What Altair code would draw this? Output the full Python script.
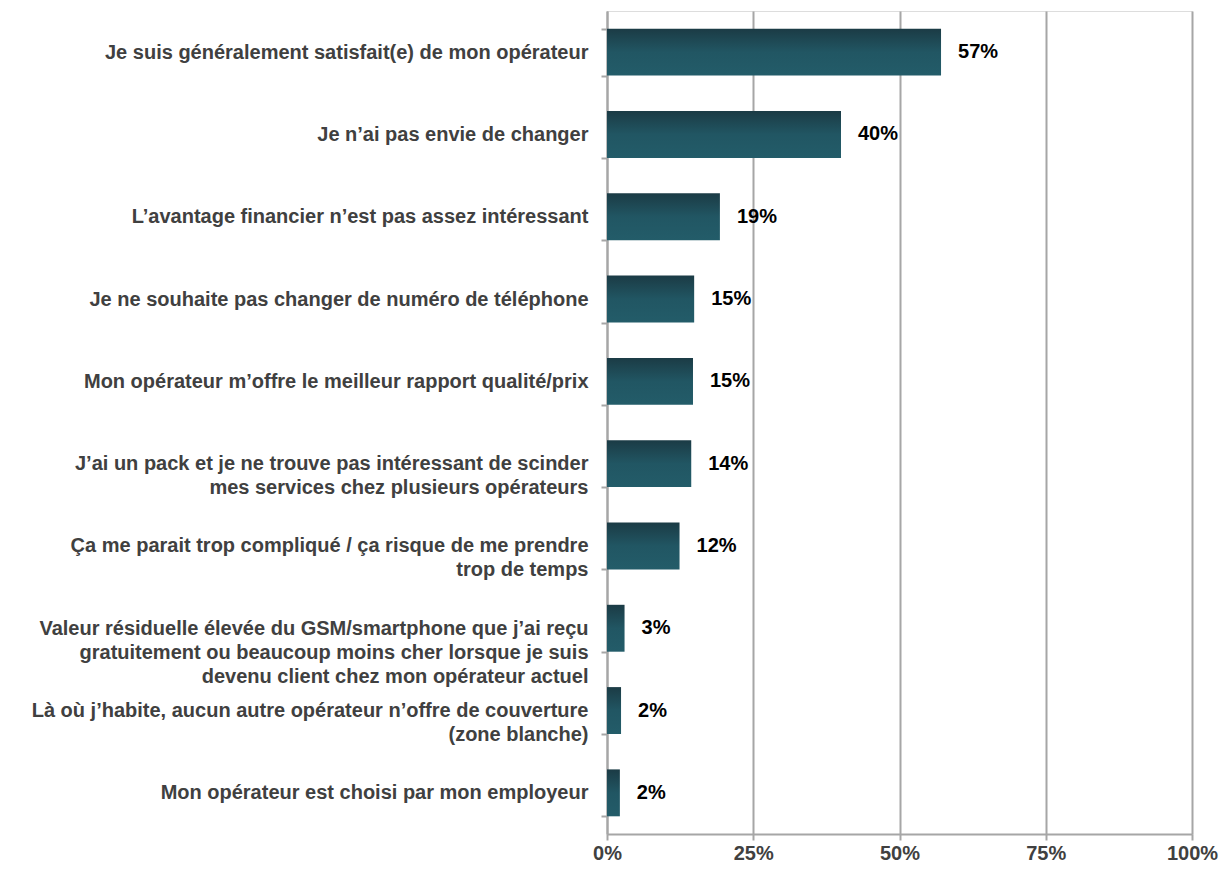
import altair as alt
import pandas as pd

categories = [
    "Je suis généralement satisfait(e) de mon opérateur",
    "Je n’ai pas envie de changer",
    "L’avantage financier n’est pas assez intéressant",
    "Je ne souhaite pas changer de numéro de téléphone",
    "Mon opérateur m’offre le meilleur rapport qualité/prix",
    "J’ai un pack et je ne trouve pas intéressant de scinder|mes services chez plusieurs opérateurs",
    "Ça me parait trop compliqué / ça risque de me prendre|trop de temps",
    "Valeur résiduelle élevée du GSM/smartphone que j’ai reçu|gratuitement ou beaucoup moins cher lorsque je suis|devenu client chez mon opérateur actuel",
    "Là où j’habite, aucun autre opérateur n’offre de couverture|(zone blanche)",
    "Mon opérateur est choisi par mon employeur",
]
values = [0.571, 0.40, 0.193, 0.149, 0.147, 0.144, 0.124, 0.030, 0.024, 0.022]
value_labels = ["57%", "40%", "19%", "15%", "15%", "14%", "12%", "3%", "2%", "2%"]

df = pd.DataFrame({"cat": categories, "val": values, "lab": value_labels})

font = "Liberation Sans"
gray_txt = "#404040"
grid_col = "#A6A6A6"

y_enc = alt.Y(
    "cat:N",
    sort=categories,
    scale=alt.Scale(paddingInner=0.43, paddingOuter=0.215),
    axis=alt.Axis(
        title=None,
        labelExpr="split(datum.label, '|')",
        labelFont=font,
        labelFontSize=20,
        labelFontWeight="bold",
        labelColor=gray_txt,
        labelLineHeight=24,
        labelPadding=13,
        labelLimit=600,
        tickBand="extent",
        tickSize=6,
        tickColor=grid_col,
        tickWidth=2,
        domainColor=grid_col,
        domainWidth=2,
        grid=False,
    ),
)

x_enc = alt.X(
    "val:Q",
    scale=alt.Scale(domain=[0, 1], nice=False),
    axis=alt.Axis(
        title=None,
        values=[0, 0.25, 0.5, 0.75, 1.0],
        format=".0%",
        labelFont=font,
        labelFontSize=20,
        labelFontWeight="bold",
        labelColor=gray_txt,
        labelPadding=3,
        tickSize=6,
        tickColor=grid_col,
        tickWidth=2,
        domainColor=grid_col,
        domainWidth=2,
        grid=True,
        gridColor=grid_col,
        gridWidth=2,
        labelFlush=False,
    ),
)

gradient = alt.LinearGradient(
    gradient="linear",
    x1=0, y1=0, x2=0, y2=1,
    stops=[
        alt.GradientStop(color="#1B3B45", offset=0),
        alt.GradientStop(color="#215663", offset=0.5),
        alt.GradientStop(color="#235C69", offset=1),
    ],
)

bars = alt.Chart(df).mark_bar(color=gradient).encode(x=x_enc, y=y_enc)

texts = alt.Chart(df).mark_text(
    align="left", baseline="middle", dx=17, font=font, fontSize=20,
    fontWeight="bold", color="#000000",
).encode(x="val:Q", y=alt.Y("cat:N", sort=categories), text="lab:N")

chart = (
    alt.layer(bars, texts)
    .properties(
        width=585,
        height=823,
        autosize=alt.AutoSizeParams(type="none"),
        padding={"left": 599, "top": 3, "right": 27, "bottom": 28},
    )
    .configure_view(stroke=None)
    .configure(background="white")
)

chart.save("out.html", embed_options={"renderer": "svg", "actions": False})
